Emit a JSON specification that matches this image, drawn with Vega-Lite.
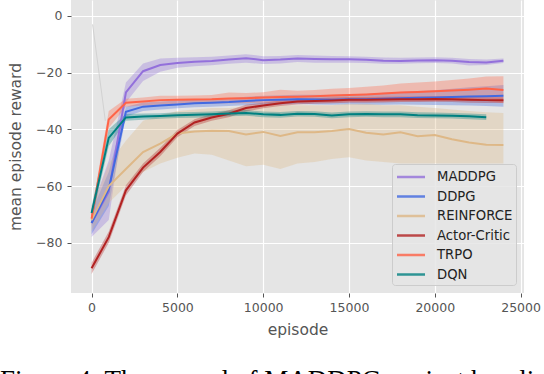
{
  "$schema": "https://vega.github.io/schema/vega-lite/v6.json",
  "width": 453,
  "height": 293,
  "autosize": {"type": "none"},
  "padding": {"left": 71, "top": 0, "right": 20, "bottom": 81},
  "background": "white",
  "config": {
    "view": {"fill": "#e5e5e5", "stroke": null},
    "axis": {
      "grid": true, "gridColor": "white", "gridWidth": 1.2, "domain": false,
      "tickColor": "#555555", "tickSize": 4, "labelColor": "#555555",
      "labelFont": "DejaVu Sans", "labelFontSize": 12.5,
      "titleFont": "DejaVu Sans", "titleFontSize": 15.5, "titleColor": "#555555", "titleFontWeight": "normal"
    },
    "legend": {
      "orient": "bottom-right", "offset": 8, "padding": 3.5,
      "fillColor": "rgba(229,229,229,0.85)", "strokeColor": "#cccccc", "cornerRadius": 3,
      "symbolType": "M-1,0H2.5", "symbolSize": 256, "symbolStrokeWidth": 2.5, "symbolOpacity": 0.8,
      "labelFont": "DejaVu Sans", "labelFontSize": 13.2, "labelColor": "#222222", "labelOffset": 22.5,
      "rowPadding": 3.5
    }
  },
  "title": {
    "text": "Figure 4: The reward of MADDPG against baselines",
    "orient": "bottom", "anchor": "start", "frame": "group",
    "font": "Liberation Serif", "fontSize": 27, "fontWeight": "normal", "color": "#000000",
    "offset": 30, "dx": -71
  },
  "datasets": {
    "ghost": [
      {"ep": 60, "v": -3},
      {"ep": 800, "v": -37}
    ],
    "runs": [
      {"s": "MADDPG", "ep": 0, "m": -73, "lo": -78, "hi": -68},
      {"s": "MADDPG", "ep": 1000, "m": -62, "lo": -72, "hi": -51},
      {"s": "MADDPG", "ep": 2000, "m": -27, "lo": -30.5, "hi": -23.5},
      {"s": "MADDPG", "ep": 3000, "m": -19.5, "lo": -23, "hi": -16.8},
      {"s": "MADDPG", "ep": 4000, "m": -17.3, "lo": -19.7, "hi": -15},
      {"s": "MADDPG", "ep": 5000, "m": -16.6, "lo": -18.3, "hi": -14.8},
      {"s": "MADDPG", "ep": 6000, "m": -16.2, "lo": -17.8, "hi": -14.6},
      {"s": "MADDPG", "ep": 7000, "m": -15.9, "lo": -17.4, "hi": -14.4},
      {"s": "MADDPG", "ep": 8000, "m": -15.4, "lo": -16.9, "hi": -14},
      {"s": "MADDPG", "ep": 9000, "m": -14.9, "lo": -16.5, "hi": -13.5},
      {"s": "MADDPG", "ep": 10000, "m": -15.6, "lo": -17, "hi": -14.2},
      {"s": "MADDPG", "ep": 11000, "m": -15.4, "lo": -16.8, "hi": -14.1},
      {"s": "MADDPG", "ep": 12000, "m": -15.0, "lo": -16.3, "hi": -13.8},
      {"s": "MADDPG", "ep": 13000, "m": -15.2, "lo": -16.5, "hi": -14},
      {"s": "MADDPG", "ep": 14000, "m": -15.3, "lo": -16.5, "hi": -14.1},
      {"s": "MADDPG", "ep": 15000, "m": -15.3, "lo": -16.5, "hi": -14.2},
      {"s": "MADDPG", "ep": 16000, "m": -15.5, "lo": -16.6, "hi": -14.4},
      {"s": "MADDPG", "ep": 17000, "m": -15.8, "lo": -16.9, "hi": -14.7},
      {"s": "MADDPG", "ep": 18000, "m": -15.9, "lo": -16.9, "hi": -14.8},
      {"s": "MADDPG", "ep": 19000, "m": -15.7, "lo": -16.7, "hi": -14.7},
      {"s": "MADDPG", "ep": 20000, "m": -15.6, "lo": -16.6, "hi": -14.6},
      {"s": "MADDPG", "ep": 21000, "m": -15.8, "lo": -16.8, "hi": -14.8},
      {"s": "MADDPG", "ep": 22000, "m": -16.3, "lo": -17.5, "hi": -15.2},
      {"s": "MADDPG", "ep": 23000, "m": -16.4, "lo": -17.3, "hi": -15.4},
      {"s": "MADDPG", "ep": 24000, "m": -15.8, "lo": -16.6, "hi": -15},

      {"s": "DDPG", "ep": 0, "m": -73, "lo": -77, "hi": -69},
      {"s": "DDPG", "ep": 1000, "m": -61, "lo": -67, "hi": -55},
      {"s": "DDPG", "ep": 2000, "m": -33.8, "lo": -35.5, "hi": -32},
      {"s": "DDPG", "ep": 3000, "m": -32, "lo": -33.5, "hi": -30.5},
      {"s": "DDPG", "ep": 4000, "m": -31.6, "lo": -33, "hi": -30.2},
      {"s": "DDPG", "ep": 5000, "m": -31.2, "lo": -32.6, "hi": -29.8},
      {"s": "DDPG", "ep": 6000, "m": -30.8, "lo": -32.2, "hi": -29.4},
      {"s": "DDPG", "ep": 7000, "m": -30.6, "lo": -32, "hi": -29.2},
      {"s": "DDPG", "ep": 8000, "m": -30.4, "lo": -31.8, "hi": -29},
      {"s": "DDPG", "ep": 9000, "m": -30, "lo": -31.5, "hi": -28.5},
      {"s": "DDPG", "ep": 10000, "m": -29.7, "lo": -31.2, "hi": -28.2},
      {"s": "DDPG", "ep": 11000, "m": -29.6, "lo": -31.2, "hi": -28},
      {"s": "DDPG", "ep": 12000, "m": -29.4, "lo": -31, "hi": -27.8},
      {"s": "DDPG", "ep": 13000, "m": -29.5, "lo": -31.2, "hi": -27.8},
      {"s": "DDPG", "ep": 14000, "m": -29.6, "lo": -31.3, "hi": -27.9},
      {"s": "DDPG", "ep": 15000, "m": -29.4, "lo": -31.2, "hi": -27.6},
      {"s": "DDPG", "ep": 16000, "m": -29.4, "lo": -31.3, "hi": -27.5},
      {"s": "DDPG", "ep": 17000, "m": -29.2, "lo": -31.3, "hi": -27.1},
      {"s": "DDPG", "ep": 18000, "m": -29.0, "lo": -31.2, "hi": -26.8},
      {"s": "DDPG", "ep": 19000, "m": -28.9, "lo": -31.3, "hi": -26.5},
      {"s": "DDPG", "ep": 20000, "m": -28.8, "lo": -31.4, "hi": -26.2},
      {"s": "DDPG", "ep": 21000, "m": -28.6, "lo": -31.5, "hi": -25.7},
      {"s": "DDPG", "ep": 22000, "m": -28.4, "lo": -31.6, "hi": -25.2},
      {"s": "DDPG", "ep": 23000, "m": -28.3, "lo": -31.8, "hi": -24.8},
      {"s": "DDPG", "ep": 24000, "m": -28.2, "lo": -32, "hi": -24.4},

      {"s": "REINFORCE", "ep": 0, "m": -72, "lo": -76, "hi": -68},
      {"s": "REINFORCE", "ep": 1000, "m": -60, "lo": -66, "hi": -52},
      {"s": "REINFORCE", "ep": 2000, "m": -54, "lo": -60, "hi": -44},
      {"s": "REINFORCE", "ep": 3000, "m": -48, "lo": -55, "hi": -37},
      {"s": "REINFORCE", "ep": 4000, "m": -45, "lo": -52, "hi": -35},
      {"s": "REINFORCE", "ep": 5000, "m": -41.5, "lo": -50, "hi": -33.5},
      {"s": "REINFORCE", "ep": 6000, "m": -40.8, "lo": -48.5, "hi": -33},
      {"s": "REINFORCE", "ep": 7000, "m": -40.5, "lo": -49, "hi": -32.5},
      {"s": "REINFORCE", "ep": 8000, "m": -40.6, "lo": -51, "hi": -32.5},
      {"s": "REINFORCE", "ep": 9000, "m": -41.8, "lo": -53, "hi": -32},
      {"s": "REINFORCE", "ep": 10000, "m": -40.9, "lo": -52.5, "hi": -31.5},
      {"s": "REINFORCE", "ep": 11000, "m": -42.3, "lo": -54, "hi": -31.5},
      {"s": "REINFORCE", "ep": 12000, "m": -41, "lo": -52, "hi": -31.5},
      {"s": "REINFORCE", "ep": 13000, "m": -41, "lo": -51.5, "hi": -31.5},
      {"s": "REINFORCE", "ep": 14000, "m": -40.6, "lo": -50.5, "hi": -31.5},
      {"s": "REINFORCE", "ep": 15000, "m": -39.9, "lo": -49.8, "hi": -31},
      {"s": "REINFORCE", "ep": 16000, "m": -41.2, "lo": -51, "hi": -31},
      {"s": "REINFORCE", "ep": 17000, "m": -41.8, "lo": -51.5, "hi": -31.5},
      {"s": "REINFORCE", "ep": 18000, "m": -41, "lo": -52, "hi": -31.5},
      {"s": "REINFORCE", "ep": 19000, "m": -42.4, "lo": -52, "hi": -32},
      {"s": "REINFORCE", "ep": 20000, "m": -42, "lo": -52, "hi": -32.5},
      {"s": "REINFORCE", "ep": 21000, "m": -43.5, "lo": -52, "hi": -33},
      {"s": "REINFORCE", "ep": 22000, "m": -44.6, "lo": -52, "hi": -33.5},
      {"s": "REINFORCE", "ep": 23000, "m": -45.4, "lo": -52, "hi": -34},
      {"s": "REINFORCE", "ep": 24000, "m": -45.5, "lo": -52, "hi": -34.2},

      {"s": "Actor-Critic", "ep": 0, "m": -89, "lo": -91, "hi": -87},
      {"s": "Actor-Critic", "ep": 1000, "m": -78, "lo": -80, "hi": -76},
      {"s": "Actor-Critic", "ep": 2000, "m": -61.5, "lo": -63.3, "hi": -59.7},
      {"s": "Actor-Critic", "ep": 3000, "m": -53.5, "lo": -55, "hi": -52},
      {"s": "Actor-Critic", "ep": 4000, "m": -48, "lo": -49.5, "hi": -46.5},
      {"s": "Actor-Critic", "ep": 5000, "m": -41.5, "lo": -42.8, "hi": -40.2},
      {"s": "Actor-Critic", "ep": 6000, "m": -37.6, "lo": -38.8, "hi": -36.4},
      {"s": "Actor-Critic", "ep": 7000, "m": -35.8, "lo": -37, "hi": -34.6},
      {"s": "Actor-Critic", "ep": 8000, "m": -34.5, "lo": -35.7, "hi": -33.3},
      {"s": "Actor-Critic", "ep": 9000, "m": -32.5, "lo": -33.7, "hi": -31.3},
      {"s": "Actor-Critic", "ep": 10000, "m": -31.6, "lo": -32.6, "hi": -30.6},
      {"s": "Actor-Critic", "ep": 11000, "m": -30.8, "lo": -31.8, "hi": -29.8},
      {"s": "Actor-Critic", "ep": 12000, "m": -30.2, "lo": -31.2, "hi": -29.2},
      {"s": "Actor-Critic", "ep": 13000, "m": -30.0, "lo": -31, "hi": -29},
      {"s": "Actor-Critic", "ep": 14000, "m": -29.8, "lo": -30.8, "hi": -28.8},
      {"s": "Actor-Critic", "ep": 15000, "m": -29.6, "lo": -30.6, "hi": -28.6},
      {"s": "Actor-Critic", "ep": 16000, "m": -29.6, "lo": -30.6, "hi": -28.6},
      {"s": "Actor-Critic", "ep": 17000, "m": -29.5, "lo": -30.5, "hi": -28.5},
      {"s": "Actor-Critic", "ep": 18000, "m": -29.4, "lo": -30.4, "hi": -28.4},
      {"s": "Actor-Critic", "ep": 19000, "m": -29.4, "lo": -30.4, "hi": -28.4},
      {"s": "Actor-Critic", "ep": 20000, "m": -29.3, "lo": -30.3, "hi": -28.3},
      {"s": "Actor-Critic", "ep": 21000, "m": -29.4, "lo": -30.4, "hi": -28.4},
      {"s": "Actor-Critic", "ep": 22000, "m": -29.6, "lo": -30.6, "hi": -28.6},
      {"s": "Actor-Critic", "ep": 23000, "m": -29.7, "lo": -30.7, "hi": -28.7},
      {"s": "Actor-Critic", "ep": 24000, "m": -29.7, "lo": -30.7, "hi": -28.7},

      {"s": "TRPO", "ep": 0, "m": -71.5, "lo": -74, "hi": -69},
      {"s": "TRPO", "ep": 1000, "m": -36.5, "lo": -39.5, "hi": -33.5},
      {"s": "TRPO", "ep": 2000, "m": -30.6, "lo": -32, "hi": -29.2},
      {"s": "TRPO", "ep": 3000, "m": -30.2, "lo": -31.6, "hi": -28.8},
      {"s": "TRPO", "ep": 4000, "m": -29.7, "lo": -31.2, "hi": -28.2},
      {"s": "TRPO", "ep": 5000, "m": -29.6, "lo": -31, "hi": -28.2},
      {"s": "TRPO", "ep": 6000, "m": -29.5, "lo": -30.9, "hi": -28.1},
      {"s": "TRPO", "ep": 7000, "m": -29.4, "lo": -30.9, "hi": -27.9},
      {"s": "TRPO", "ep": 8000, "m": -29.1, "lo": -30.8, "hi": -27},
      {"s": "TRPO", "ep": 9000, "m": -29.0, "lo": -30.8, "hi": -27.2},
      {"s": "TRPO", "ep": 10000, "m": -28.8, "lo": -30.7, "hi": -26.9},
      {"s": "TRPO", "ep": 11000, "m": -28.6, "lo": -30.6, "hi": -26},
      {"s": "TRPO", "ep": 12000, "m": -28.5, "lo": -30.6, "hi": -26.4},
      {"s": "TRPO", "ep": 13000, "m": -28.3, "lo": -30.5, "hi": -26.1},
      {"s": "TRPO", "ep": 14000, "m": -28.1, "lo": -30.5, "hi": -25.7},
      {"s": "TRPO", "ep": 15000, "m": -27.9, "lo": -30.4, "hi": -25.4},
      {"s": "TRPO", "ep": 16000, "m": -27.7, "lo": -30.4, "hi": -25},
      {"s": "TRPO", "ep": 17000, "m": -27.4, "lo": -30.3, "hi": -24.5},
      {"s": "TRPO", "ep": 18000, "m": -27.0, "lo": -30.2, "hi": -23.8},
      {"s": "TRPO", "ep": 19000, "m": -26.8, "lo": -30.1, "hi": -23.5},
      {"s": "TRPO", "ep": 20000, "m": -26.6, "lo": -30.1, "hi": -23.1},
      {"s": "TRPO", "ep": 21000, "m": -26.3, "lo": -30, "hi": -22.6},
      {"s": "TRPO", "ep": 22000, "m": -26.0, "lo": -30, "hi": -22.1},
      {"s": "TRPO", "ep": 23000, "m": -25.6, "lo": -30, "hi": -21.4},
      {"s": "TRPO", "ep": 24000, "m": -26.1, "lo": -30.8, "hi": -21.3},

      {"s": "DQN", "ep": 0, "m": -69.5, "lo": -72, "hi": -67},
      {"s": "DQN", "ep": 1000, "m": -43, "lo": -46, "hi": -40},
      {"s": "DQN", "ep": 2000, "m": -35.8, "lo": -37, "hi": -34.6},
      {"s": "DQN", "ep": 3000, "m": -35.5, "lo": -36.6, "hi": -34.4},
      {"s": "DQN", "ep": 4000, "m": -35.3, "lo": -36.3, "hi": -34.3},
      {"s": "DQN", "ep": 5000, "m": -35.0, "lo": -36, "hi": -34},
      {"s": "DQN", "ep": 6000, "m": -34.9, "lo": -35.9, "hi": -33.9},
      {"s": "DQN", "ep": 7000, "m": -34.7, "lo": -35.7, "hi": -33.7},
      {"s": "DQN", "ep": 8000, "m": -34.4, "lo": -35.4, "hi": -33.4},
      {"s": "DQN", "ep": 9000, "m": -34.2, "lo": -35.2, "hi": -33.2},
      {"s": "DQN", "ep": 10000, "m": -34.7, "lo": -35.7, "hi": -33.7},
      {"s": "DQN", "ep": 11000, "m": -34.9, "lo": -35.9, "hi": -33.9},
      {"s": "DQN", "ep": 12000, "m": -34.5, "lo": -35.5, "hi": -33.5},
      {"s": "DQN", "ep": 13000, "m": -34.6, "lo": -35.6, "hi": -33.6},
      {"s": "DQN", "ep": 14000, "m": -35.1, "lo": -36.1, "hi": -34.1},
      {"s": "DQN", "ep": 15000, "m": -34.7, "lo": -35.7, "hi": -33.7},
      {"s": "DQN", "ep": 16000, "m": -34.6, "lo": -35.6, "hi": -33.6},
      {"s": "DQN", "ep": 17000, "m": -34.7, "lo": -35.7, "hi": -33.7},
      {"s": "DQN", "ep": 18000, "m": -34.7, "lo": -35.7, "hi": -33.7},
      {"s": "DQN", "ep": 19000, "m": -35.0, "lo": -36, "hi": -34},
      {"s": "DQN", "ep": 20000, "m": -35.1, "lo": -36.1, "hi": -34.1},
      {"s": "DQN", "ep": 21000, "m": -35.2, "lo": -36.2, "hi": -34.2},
      {"s": "DQN", "ep": 22000, "m": -35.4, "lo": -36.4, "hi": -34.4},
      {"s": "DQN", "ep": 23000, "m": -35.7, "lo": -36.7, "hi": -34.7}
    ]
  },
  "layer": [
    {
      "data": {"name": "runs"},
      "mark": {"type": "area", "opacity": 0.33},
      "encoding": {
        "x": {"field": "ep", "type": "quantitative", "scale": {"domain": [-1200, 25200], "nice": false, "zero": false},
              "axis": {"title": "episode", "values": [0, 5000, 10000, 15000, 20000, 25000], "format": "d", "labelPadding": 4, "titlePadding": 9}},
        "y": {"field": "lo", "type": "quantitative", "scale": {"domain": [-97.7, 5.6], "nice": false, "zero": false},
              "axis": {"title": "mean episode reward", "values": [0, -20, -40, -60, -80], "labelPadding": 5, "titlePadding": 12}},
        "y2": {"field": "hi"},
        "color": {"field": "s", "type": "nominal",
                  "scale": {"domain": ["MADDPG", "DDPG", "REINFORCE", "Actor-Critic", "TRPO", "DQN"],
                            "range": ["#9370db", "#4169e1", "#deb887", "#b22222", "#ff6347", "#008080"]},
                  "legend": {"title": null, "symbolType": "M-1,0H2.5"}}
      }
    },
    {
      "data": {"name": "ghost"},
      "mark": {"type": "line", "color": "#d2d2d2", "strokeWidth": 1},
      "encoding": {
        "x": {"field": "ep", "type": "quantitative"},
        "y": {"field": "v", "type": "quantitative"}
      }
    },
    {
      "data": {"name": "runs"},
      "mark": {"type": "line", "strokeWidth": 2},
      "encoding": {
        "x": {"field": "ep", "type": "quantitative"},
        "y": {"field": "m", "type": "quantitative"},
        "color": {"field": "s", "type": "nominal", "legend": {"title": null, "symbolType": "M-1,0H2.5"}}
      }
    }
  ]
}
